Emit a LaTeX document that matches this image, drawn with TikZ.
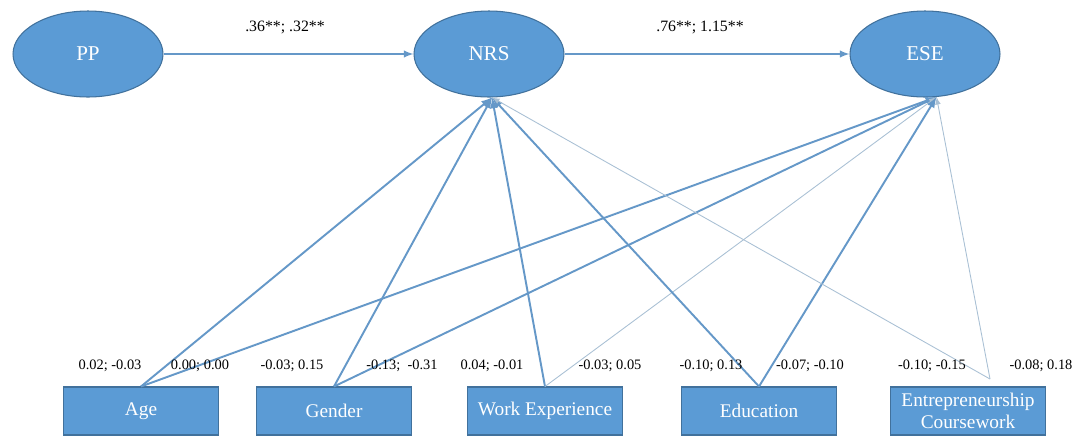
\documentclass[tikz,border=0pt]{standalone}
\usepackage{fontspec}
\setmainfont{Liberation Serif}
\usepackage{tikz}
\usetikzlibrary{arrows, shapes.geometric}

\definecolor{nodeblue}{HTML}{5B9BD5}
\definecolor{nodeedge}{HTML}{41719C}
\definecolor{pathblue}{HTML}{6598C8}
\definecolor{pathgrey}{HTML}{A9C0D4}

\begin{document}
\begin{tikzpicture}[
            x = 0.02cm, y = -0.02cm, % one unit is one pixel of the sketch
            > = latex, % arrow head style
            semithick % line style
        ]

        \tikzstyle{latent}=[
            ellipse,
            draw = nodeedge,
            fill = nodeblue,
            text = white,
            inner sep = 0pt,
            minimum width = 3cm,
            minimum height = 1.72cm,
            font = \fontsize{12}{14}\selectfont
        ]
        \tikzstyle{observed}=[
            rectangle,
            draw = nodeedge,
            fill = nodeblue,
            text = white,
            align = center,
            inner sep = 0pt,
            minimum width = 3.1cm,
            minimum height = 0.96cm,
            font = \fontsize{11}{12.5}\selectfont
        ]
        \tikzstyle{strong}=[->, draw = pathblue, line width = 1.1pt]
        \tikzstyle{weak}=[->, draw = pathgrey, line width = 0.5pt]
        \tikzstyle{coef}=[inner sep = 1pt, font = \fontsize{8.2}{10}\selectfont]

        \useasboundingbox (0,0) rectangle (1078,437);

        \node[latent] (pp)  at (88,54)  {PP};
        \node[latent] (nrs) at (489,54) {NRS};
        \node[latent] (ese) at (925,54) {ESE};

        \node[observed] (age)     at (141,411) {Age};
        \node[observed] (gender)  at (334,411) {Gender};
        \node[observed] (workexp) at (545,411) {Work Experience};
        \node[observed] (educ)    at (759,411) {Education};
        \node[observed] (course)  at (968,411) {Entrepreneurship\\Coursework};
        \coordinate (coursetop) at (990,379);

        % paths between the latent variables
        \draw[->, draw = pathblue, line width = 0.9pt] (pp) -- (nrs);
        \draw[->, draw = pathblue, line width = 0.9pt] (nrs) -- (ese);
        \node[coef, font = \fontsize{9}{11}\selectfont] (pp-nrs)  at (285,27) {.36**; .32**};
        \node[coef, font = \fontsize{9}{11}\selectfont] (nrs-ese) at (700,27) {.76**; 1.15**};

        % controls
        \draw[strong] (age.north) -- (nrs.-86);
        \draw[strong] (age.north) -- (ese.-75);
        \draw[strong] (gender.north) -- (nrs.-86);
        \draw[strong] (gender.north) -- (ese.-75);
        \draw[strong] (workexp.north) -- (nrs.-86);
        \draw[weak]   (workexp.north) -- (ese.-75);
        \draw[strong] (educ.north) -- (nrs.-86);
        \draw[strong] (educ.north) -- (ese.-75);
        \draw[weak]   (coursetop) -- (nrs.-86);
        \draw[weak]   (coursetop) -- (ese.-75);

        \node[coef] (age-nrs)     at (110,366)  {0.02; -0.03};
        \node[coef] (age-ese)     at (200,366)  {0.00; 0.00};
        \node[coef] (gender-nrs)  at (292,366)  {-0.03; 0.15};
        \node[coef] (gender-ese)  at (402,366)  {-0.13;\ \ -0.31};
        \node[coef] (workexp-nrs) at (492,366)  {0.04; -0.01};
        \node[coef] (workexp-ese) at (610,366)  {-0.03; 0.05};
        \node[coef] (educ-nrs)    at (711,366)  {-0.10; 0.13};
        \node[coef] (educ-ese)    at (810,366)  {-0.07; -0.10};
        \node[coef] (course-nrs)  at (932,366)  {-0.10; -0.15};
        \node[coef] (course-ese)  at (1041,366) {-0.08; 0.18};
    \end{tikzpicture}
\end{document}
